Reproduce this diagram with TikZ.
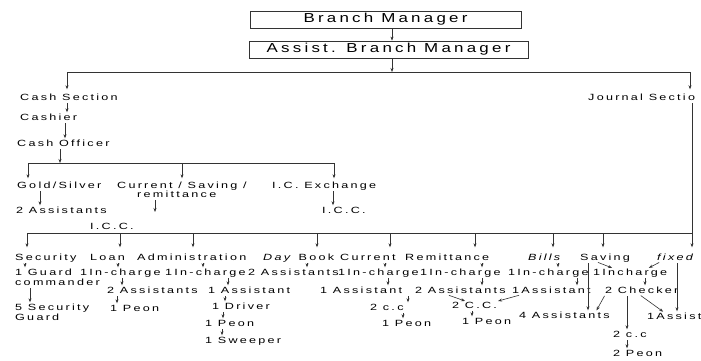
\documentclass[tikz,border=0pt]{standalone}
\usepackage{fontspec}
\setmainfont{Liberation Sans}[LetterSpace=25,FakeStretch=1.4]
\newfontfamily\bigf{Liberation Sans}[LetterSpace=25,FakeStretch=1.3]
\usetikzlibrary{arrows.meta}
\tikzset{
  x=1pt, y=-1pt,
  lbl/.style={anchor=base west, inner sep=0pt, text height=6.5pt, text depth=1.8pt,
              font=\fontsize{9}{10}\selectfont, text=black},
  boxn/.style={draw=black!80, line width=0.8pt, inner sep=0pt, minimum height=17pt,
               font=\bigf\fontsize{13}{15}\selectfont, text=black},
  arr/.style={-{Stealth[length=4pt,width=3pt]}, line width=0.6pt, draw=black!80,
              shorten <=1pt, shorten >=1pt},
  ln/.style={line width=0.6pt, draw=black!80}
}
\begin{document}
\begin{tikzpicture}
\fill[white] (0,0) rectangle (701,360);
\useasboundingbox (0,0) rectangle (701,360);

% top boxes
\node[boxn, minimum width=271pt] (bm) at (385.5,19.5) {Branch Manager};
\node[boxn, minimum width=279pt] (abm) at (388.5,49.5) {Assist. Branch Manager};
\coordinate (cA) at (392,0);
\draw[arr, shorten <=0pt, shorten >=0pt] (bm.south -| cA) -- (abm.north -| cA);

% first bus
\coordinate (busL) at (67,72);
\coordinate (busM) at (392,72);
\coordinate (busR) at (690,72);
\draw[ln] (busL) -- (busR);
\draw[arr, shorten <=0pt, shorten >=0pt] (abm.south -| busM) -- (busM);

\node[lbl] (cash) at (20,100) {Cash Section};
\node[lbl] (journal) at (588,100) {Journal Sectio};
\draw[arr, shorten <=0pt, shorten >=4pt] (busL) -- (cash.north -| busL);
\draw[arr, shorten <=0pt, shorten >=4pt] (busR) -- (journal.north -| busR);

\node[lbl] (cashier) at (20,120) {Cashier};
\draw[arr] (cash.south -| 67,0) -- (cashier.north -| 67,0);
\node[lbl] (officer) at (17,146) {Cash Officer};
\draw[arr] (cashier.south -| 65,0) -- (officer.north -| 65,0);

% second bus
\coordinate (bus2L) at (28,163);
\coordinate (bus2M) at (60,163);
\coordinate (bus2R) at (335,163);
\draw[ln] (bus2L) -- (bus2R);
\draw[arr, shorten >=0pt] (officer.south -| bus2M) -- (bus2M);

\node[lbl] (gold) at (17,188) {Gold/Silver};
\node[lbl] (csr) at (117,188) {Current / Saving /};
\node[lbl] (remit0) at (137,197) {remittance};
\node[lbl] (icx) at (272,188) {I.C. Exchange};
\draw[arr, shorten <=0pt, shorten >=3pt] (bus2L) -- (gold.north -| bus2L);
\draw[arr, shorten <=0pt, shorten >=3pt] (bus2R -| 182,0) -- (csr.north -| 182,0);
\draw[arr, shorten <=0pt, shorten >=3pt] (bus2R -| 334,0) -- (icx.north -| 334,0);

\node[lbl] (gold2) at (16,213) {2 Assistants};
\draw[arr] (gold.south -| 40,0) -- (gold2.north -| 40,0);
\coordinate (free) at (155,212);
\draw[arr, shorten >=0pt] (remit0.south -| free) -- (free);
\node[lbl] (icc1) at (322,213) {I.C.C.};
\draw[arr] (icx.south -| 333,0) -- (icc1.north -| 333,0);
\node[lbl] (icc2) at (90,229) {I.C.C.};

% third bus
\coordinate (bus3L) at (27,233);
\coordinate (bus3R) at (692,233);
\draw[ln] (bus3L) -- (bus3R);

% row A
\node[lbl] (security) at (15,260) {Security};
\node[lbl] (loan) at (90,260) {Loan};
\node[lbl] (admin) at (137,260) {Administration};
\node[lbl] (daybook) at (263,260) {\textit{Day} Book};
\node[lbl] (current) at (340,260) {Current};
\node[lbl] (remit) at (405,260) {Remittance};
\node[lbl] (bills) at (528,260) {\textit{Bills}};
\node[lbl] (saving) at (580,260) {Saving};
\node[lbl] (fixed) at (657,260) {\textit{fixed}};

\draw[arr, shorten <=0pt, shorten >=6pt] (bus3L) -- (security.north -| bus3L);
\draw[arr, shorten <=0pt, shorten >=6pt] (bus3L -| 120,0) -- (loan.north -| 120,0);
\draw[arr, shorten <=0pt, shorten >=6pt] (bus3L -| 193,0) -- (admin.north -| 193,0);
\draw[arr, shorten <=0pt, shorten >=6pt] (bus3L -| 317,0) -- (daybook.north -| 317,0);
\draw[arr, shorten <=0pt, shorten >=6pt] (bus3L -| 390,0) -- (current.north -| 390,0);
\draw[arr, shorten <=0pt, shorten >=6pt] (bus3L -| 475,0) -- (remit.north -| 475,0);
\draw[arr, shorten <=0pt, shorten >=6pt] (bus3L -| 553,0) -- (bills.north -| 553,0);
\draw[arr, shorten <=0pt, shorten >=6pt] (bus3L -| 603,0) -- (saving.north -| 603,0);
\draw[arr, shorten >=6pt] (journal.south -| bus3R) -- (fixed.north -| bus3R);

% row B
\node[lbl] (guard) at (15,275) {1 Guard};
\node[lbl] (commander) at (15,285) {commander};
\node[lbl] (loanic) at (80,275) {1In-charge};
\node[lbl] (adminic) at (165,275) {1In-charge};
\node[lbl] (book2) at (248,275) {2 Assistants};
\node[lbl] (curic) at (338,275) {1In-charge};
\node[lbl] (remic) at (420,275) {1In-charge};
\node[lbl] (billsic) at (508,275) {1In-charge};
\node[lbl] (saveic) at (593,275) {1Incharge};

\draw[arr] (security.south -| 25,0) -- (guard.north -| 25,0);
\draw[arr] (loan.south -| 118,0) -- (loanic.north -| 118,0);
\draw[arr] (admin.south -| 203,0) -- (adminic.north -| 203,0);
\draw[arr] (daybook.south -| 307,0) -- (book2.north -| 307,0);
\draw[arr] (current.south -| 385,0) -- (curic.north -| 385,0);
\draw[arr] (remit.south -| 482,0) -- (remic.north -| 482,0);
\draw[arr] (bills.south -| 558,0) -- (billsic.north -| 558,0);
\draw[arr] (saving.south -| 597,0) -- (saveic.north -| 613,0);
\draw[arr] (fixed.south -| 660,0) -- (saveic.north -| 648,0);

% row C
\node[lbl] (loan2) at (107,293) {2 Assistants};
\node[lbl] (admin1) at (208,293) {1 Assistant};
\node[lbl] (cur1) at (320,293) {1 Assistant};
\node[lbl] (remit2) at (415,293) {2 Assistants};
\node[lbl] (bills1) at (512,293) {1Assistant};
\node[lbl] (checker) at (605,293) {2 Checker};

\draw[arr] (loanic.south -| 122,0) -- (loan2.north -| 122,0);
\draw[arr] (adminic.south -| 228,0) -- (admin1.north -| 228,0);
\draw[arr] (curic.south -| 388,0) -- (cur1.north -| 388,0);
\draw[arr] (remic.south -| 482,0) -- (remit2.north -| 482,0);
\draw[arr] (billsic.south -| 577,0) -- (bills1.north -| 577,0);
\draw[arr] (saveic.south -| 645,0) -- (checker.north -| 645,0);

% row D and below
\node[lbl] (sec5) at (15,310) {5 Security};
\node[lbl] (guardB) at (15,320) {Guard};
\node[lbl] (loanpeon) at (110,311) {1 Peon};
\node[lbl] (driver) at (212,309) {1 Driver};
\node[lbl] (adpeon) at (205,326) {1 Peon};
\node[lbl] (sweeper) at (205,343) {1 Sweeper};
\node[lbl] (curcc) at (370,310) {2 c.c};
\node[lbl] (curpeon) at (382,326) {1 Peon};
\node[lbl] (remcc) at (452,308) {2 C.C.};
\node[lbl] (rempeon) at (462,324) {1 Peon};
\node[lbl] (four) at (519,318) {4 Assistants};
\node[lbl] (savcc) at (613,337) {2 c.c};
\node[lbl] (savpeon) at (613,356) {2 Peon};
\node[lbl] (assist) at (647,319) {1Assist};

\draw[arr] (commander.south -| 30,0) -- (sec5.north -| 30,0);
\draw[arr] (loan2.south -| 117,0) -- (loanpeon.north -| 117,0);
\draw[arr] (admin1.south -| 225,0) -- (driver.north -| 225,0);
\draw[arr] (driver.south -| 223,0) -- (adpeon.north -| 223,0);
\draw[arr] (adpeon.south -| 222,0) -- (sweeper.north -| 222,0);
\draw[arr] (cur1.south -| 408,0) -- (curcc.north -| 408,0);
\draw[arr] (curcc.south -| 403,0) -- (curpeon.north -| 403,0);
\draw[arr] (remit2.south -| 448,0) -- (remcc.north -| 466,0);
\draw[arr] (bills1.south -| 520,0) -- (remcc.north east);
\draw[arr] (remcc.south -| 472,0) -- (rempeon.north -| 472,0);
\draw[arr] (saving.south -| 588,0) -- (four.north -| 588,0);
\draw[arr] (checker.south -| 605,0) -- (four.north -| 596,0);
\draw[arr] (checker.south -| 627,0) -- (savcc.north -| 627,0);
\draw[arr] (savcc.south -| 627,0) -- (savpeon.north -| 627,0);
\draw[arr] (checker.south -| 640,0) -- (assist.north -| 664,0);
\draw[arr] (fixed.south -| 677,0) -- (assist.north -| 677,0);
\end{tikzpicture}
\end{document}
